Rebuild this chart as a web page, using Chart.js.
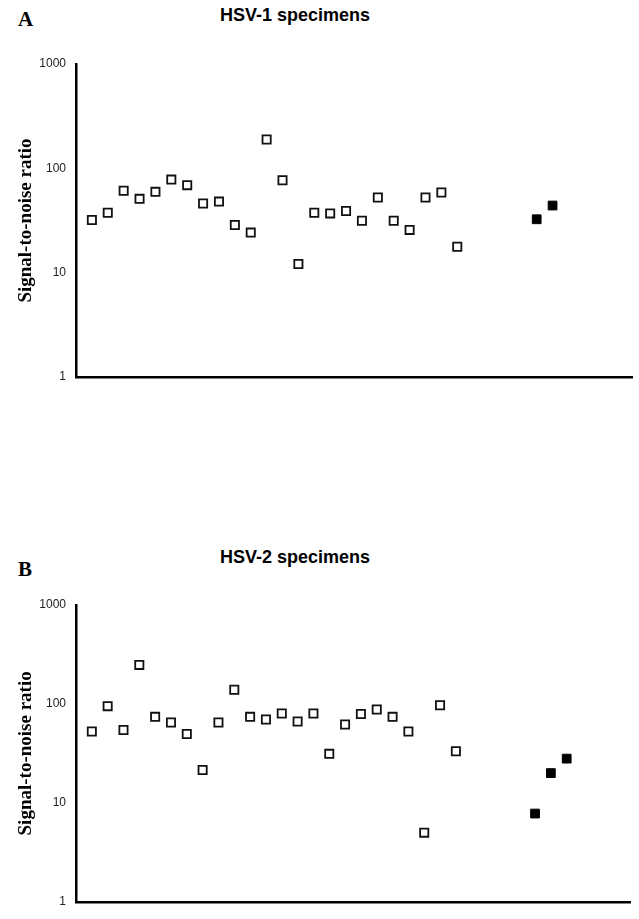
<!DOCTYPE html>
<html>
<head>
<meta charset="utf-8">
<script src="https://cdn.jsdelivr.net/npm/chart.js@4"></script>
<style>
  body { margin: 0; background: #fff; width: 639px; height: 919px; position: relative; overflow: hidden; }
  canvas { position: absolute; left: 0; }
  .panel { position: absolute; font-family: "Liberation Serif", serif; font-weight: bold; font-size: 21px; line-height: 22px; }
  .title { position: absolute; width: 240px; text-align: center; font-family: "Liberation Sans", Arial, sans-serif; font-weight: bold; font-size: 18px; line-height: 18px; }
</style>
</head>
<body>
<div class="panel" style="left:18px; top:8px;">A</div>
<div class="title" style="left:175px; top:6px;">HSV-1 specimens</div>
<canvas id="chartA" width="639" height="400" style="top:0px;"></canvas>

<div class="panel" style="left:18px; top:558px;">B</div>
<div class="title" style="left:175px; top:548px;">HSV-2 specimens</div>
<canvas id="chartB" width="639" height="379" style="top:540px;"></canvas>

<script>
// specimen slots along the x axis
const hsv1OpenX = [1, 2, 3, 4, 5, 6, 7, 8, 9, 10, 11, 12, 13, 14, 15, 16, 17, 18, 19, 20, 21, 22, 23, 24];
const hsv1OpenY = [32, 37.5, 61, 51, 59.5, 78, 69, 46, 48, 28.6, 24.2, 189, 77, 12.1, 37.5, 37, 39, 31.5, 52.6, 31.5, 25.7, 52.6, 58.7, 17.7];
const hsv1FilledX = [29, 30];
const hsv1FilledY = [32.5, 44];

const hsv2OpenX = [1, 2, 3, 4, 5, 6, 7, 8, 9, 10, 11, 12, 13, 14, 15, 16, 17, 18, 19, 20, 21, 22, 23, 24];
const hsv2OpenY = [52.6, 95, 54.5, 248, 74, 65, 49.6, 21.5, 65, 139, 74, 69.6, 80, 66.5, 80, 31.3, 62, 79, 88, 74, 52.6, 5, 97, 33.3];
const hsv2FilledX = [29, 30, 31];
const hsv2FilledY = [7.8, 20, 28];

const yTicks = [1, 10, 100, 1000];

function toPoints(xs, ys) {
  return xs.map((x, i) => ({ x: x, y: ys[i] }));
}

function makeChart(id, openX, openY, filledX, filledY, pad, xHeight) {
  return new Chart(document.getElementById(id), {
    type: "scatter",
    data: {
      datasets: [
        {
          data: toPoints(openX, openY),
          pointStyle: "rect",
          pointRadius: 5.8,
          pointBorderWidth: 1.8,
          borderColor: "#111",
          backgroundColor: "#fff",
        },
        {
          data: toPoints(filledX, filledY),
          pointStyle: "rect",
          pointRadius: 6.2,
          pointBorderWidth: 1,
          borderColor: "#000",
          backgroundColor: "#000",
        },
      ],
    },
    options: {
      responsive: false,
      animation: false,
      events: [],
      layout: { autoPadding: false, padding: pad },
      plugins: { legend: { display: false }, tooltip: { enabled: false } },
      scales: {
        x: {
          type: "linear",
          min: 0,
          max: 35,
          ticks: { display: false },
          grid: { display: false },
          border: { color: "#000", width: 2.5 },
          afterFit: (s) => { s.height = xHeight; },
        },
        y: {
          type: "logarithmic",
          min: 1,
          max: 1000,
          afterBuildTicks: (s) => { s.ticks = yTicks.map((v) => ({ value: v })); },
          ticks: {
            color: "#222",
            padding: 10,
            font: { family: "'Liberation Sans', Arial, sans-serif", size: 12 },
            callback: (v) => String(v),
          },
          grid: { display: false, drawTicks: false },
          border: { color: "#000", width: 2.5 },
          title: {
            display: true,
            text: "Signal-to-noise ratio",
            color: "#000",
            font: { family: "'Liberation Serif', serif", size: 19, weight: "bold" },
            padding: { top: 15, bottom: 0 },
          },
          afterFit: (s) => { s.width = 76; },
        },
      },
    },
  });
}

makeChart("chartA", hsv1OpenX, hsv1OpenY, hsv1FilledX, hsv1FilledY, { top: 64, right: 7, bottom: 0, left: 0 }, 23);
makeChart("chartB", hsv2OpenX, hsv2OpenY, hsv2FilledX, hsv2FilledY, { top: 65, right: 9, bottom: 0, left: 0 }, 2);
</script>
</body>
</html>
